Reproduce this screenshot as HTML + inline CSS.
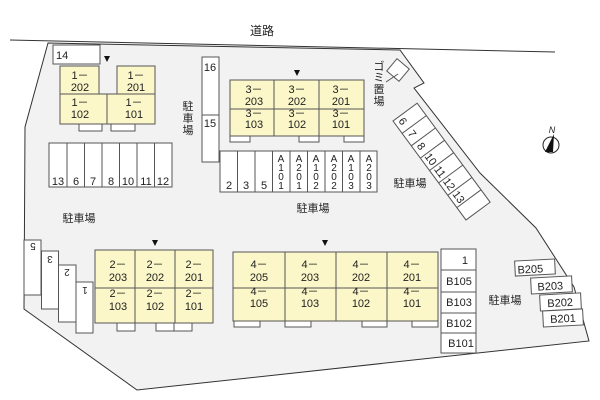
<!DOCTYPE html>
<html><head><meta charset="utf-8"><style>
html,body{margin:0;padding:0;background:#fff;}
svg{display:block;}
text{font-family:"Liberation Sans","Noto Sans CJK JP",sans-serif;fill:#222;}
</style></head><body>
<svg width="600" height="400" viewBox="0 0 600 400" xmlns="http://www.w3.org/2000/svg">
<line x1="10" y1="40" x2="555" y2="52" stroke="#333" stroke-width="1"/>
<text x="262" y="35" font-size="12" text-anchor="middle">道路</text>
<polygon points="48,43 400,50 424,83 414,88 480,173 536,228 574,287 589,341 137,390 24,309 25,127" fill="#f2f2f2" stroke="#333" stroke-width="1"/>

<g stroke="#555" stroke-width="1" font-size="11">
<!-- 14 -->
<rect x="53" y="45" width="47" height="19" fill="#fff"/>
<text x="56" y="59" stroke="none">14</text>
<!-- building 1 -->
<rect x="60" y="66" width="39" height="28" fill="#fbf7c8"/>
<rect x="117" y="66" width="38" height="28" fill="#fbf7c8"/>
<rect x="60" y="94" width="47" height="30" fill="#fbf7c8"/>
<rect x="107" y="94" width="48" height="30" fill="#fbf7c8"/>
<rect x="79" y="124" width="23" height="7" fill="#fff"/>
<rect x="111" y="124" width="24" height="7" fill="#fff"/>
<!-- 13..12 parking -->
<rect x="49" y="143" width="123" height="44" fill="#fff"/>
<path d="M67 143V187M84.5 143V187M102 143V187M119.5 143V187M137 143V187M154.5 143V187" fill="none"/>
<!-- 16/15 -->
<rect x="202" y="57" width="17" height="105" fill="#fff"/>
<line x1="202" y1="115" x2="219" y2="115"/>
<!-- building 3 -->
<rect x="230" y="80" width="134" height="56" fill="#fbf7c8"/>
<path d="M230 109H364M274 80V136M319 80V136" fill="none"/>
<rect x="230" y="136" width="20" height="6" fill="#fff"/>
<rect x="299" y="136" width="20" height="6" fill="#fff"/>
<rect x="344" y="136" width="20" height="6" fill="#fff"/>
<!-- parking row 2..A203 -->
<rect x="220" y="151" width="157" height="41" fill="#fff"/>
<path d="M237.5 151V192M255 151V192M272.5 151V192M290 151V192M307.5 151V192M325 151V192M342.5 151V192M360 151V192" fill="none"/>
<!-- gomi -->
<rect x="390" y="62" width="16" height="16" fill="#fff" transform="rotate(40 398 70)"/>
<line x1="386" y1="82" x2="398" y2="74"/>
<!-- diagonal parking -->
<g transform="translate(393,121) rotate(53.6)">
<rect x="0" y="-30" width="123" height="30" fill="#fff"/>
<path d="M15.4 -30V0M30.8 -30V0M46.1 -30V0M61.5 -30V0M76.9 -30V0M92.3 -30V0M107.6 -30V0" fill="none"/>
<g stroke="none" font-size="11">
<text x="3" y="-4">6</text><text x="18.5" y="-4">7</text><text x="34" y="-4">8</text>
<text x="47" y="-4">10</text><text x="63" y="-4">11</text><text x="78" y="-4">12</text><text x="94" y="-4">13</text>
</g>
</g>
<!-- left rotated parking -->
<rect x="24" y="240" width="17" height="55" fill="#fff"/>
<rect x="41.5" y="251" width="17" height="58" fill="#fff"/>
<rect x="58.5" y="265" width="17.5" height="57" fill="#fff"/>
<rect x="76" y="282" width="17" height="51" fill="#fff"/>
<g stroke="none" font-size="10">
<text transform="translate(33,243) rotate(180)" text-anchor="middle">5</text>
<text transform="translate(50,256) rotate(180)" text-anchor="middle">3</text>
<text transform="translate(67,269) rotate(180)" text-anchor="middle">2</text>
<text transform="translate(85,287) rotate(180)" text-anchor="middle">1</text>
</g>
<!-- building 2 -->
<rect x="95" y="250" width="118" height="73" fill="#fbf7c8"/>
<path d="M95 288H213M135 250V323M175 250V323" fill="none"/>
<rect x="117" y="323" width="18" height="8" fill="#fff"/>
<rect x="156" y="323" width="18" height="8" fill="#fff"/>
<rect x="174" y="323" width="18" height="8" fill="#fff"/>
<!-- building 4 -->
<rect x="233" y="252" width="205" height="69" fill="#fbf7c8"/>
<path d="M233 288H438M285 252V321M336 252V321M387 252V321" fill="none"/>
<rect x="234" y="321" width="26" height="6" fill="#fff"/>
<rect x="285" y="321" width="26" height="6" fill="#fff"/>
<rect x="362" y="321" width="25" height="6" fill="#fff"/>
<rect x="412" y="321" width="26" height="6" fill="#fff"/>
<!-- B column -->
<rect x="441" y="249" width="35" height="104" fill="#fff"/>
<path d="M441 270H476M441 292H476M441 313H476M441 333H476" fill="none"/>
<!-- B2xx -->
<rect x="515" y="260" width="40" height="15" fill="#fff" transform="rotate(-3 535 268)"/>
<rect x="531" y="277" width="41" height="16" fill="#fff" transform="rotate(-3 551 285)"/>
<rect x="540" y="294" width="41" height="16" fill="#fff" transform="rotate(-3 560 302)"/>
<rect x="543" y="310" width="40" height="16" fill="#fff" transform="rotate(-3 563 318)"/>
</g>

<!-- arrows -->
<g fill="#111">
<polygon points="104,56 110,56 107,62"/>
<polygon points="294,70 300,70 297,76"/>
<polygon points="152,240 158,240 155,246"/>
<polygon points="322,240 328,240 325,246"/>
</g>

<g font-size="11" text-anchor="middle">
<text x="80" y="79">1－</text><text x="80" y="91">202</text>
<text x="136" y="79">1－</text><text x="136" y="91">201</text>
<text x="80" y="106">1－</text><text x="80" y="118">102</text>
<text x="134" y="106">1－</text><text x="134" y="118">101</text>
<g font-size="11"><text x="58" y="185">13</text><text x="76" y="185">6</text><text x="93" y="185">7</text><text x="111" y="185">8</text><text x="128" y="185">10</text><text x="146" y="185">11</text><text x="163" y="185">12</text></g>
<text x="210" y="71">16</text><text x="210" y="127">15</text>
<text x="254" y="93">3－</text><text x="254" y="105">203</text>
<text x="297" y="93">3－</text><text x="297" y="105">202</text>
<text x="341" y="93">3－</text><text x="341" y="105">201</text>
<text x="254" y="117">3－</text><text x="254" y="128">103</text>
<text x="297" y="117">3－</text><text x="297" y="128">102</text>
<text x="341" y="117">3－</text><text x="341" y="128">101</text>
<text x="229" y="189">2</text><text x="246" y="189">3</text><text x="264" y="189">5</text>
<g font-size="10">
<text x="281" y="162">A</text><text x="281" y="171">1</text><text x="281" y="180">0</text><text x="281" y="189">1</text>
<text x="299" y="162">A</text><text x="299" y="171">2</text><text x="299" y="180">0</text><text x="299" y="189">1</text>
<text x="316" y="162">A</text><text x="316" y="171">1</text><text x="316" y="180">0</text><text x="316" y="189">2</text>
<text x="334" y="162">A</text><text x="334" y="171">2</text><text x="334" y="180">0</text><text x="334" y="189">2</text>
<text x="351" y="162">A</text><text x="351" y="171">1</text><text x="351" y="180">0</text><text x="351" y="189">3</text>
<text x="369" y="162">A</text><text x="369" y="171">2</text><text x="369" y="180">0</text><text x="369" y="189">3</text>
</g>
<text x="118" y="268">2－</text><text x="118" y="281">203</text>
<text x="155" y="268">2－</text><text x="155" y="281">202</text>
<text x="194" y="268">2－</text><text x="194" y="281">201</text>
<text x="118" y="297">2－</text><text x="118" y="310">103</text>
<text x="155" y="297">2－</text><text x="155" y="310">102</text>
<text x="194" y="297">2－</text><text x="194" y="310">101</text>
<text x="259" y="268">4－</text><text x="259" y="281">205</text>
<text x="310" y="268">4－</text><text x="310" y="281">203</text>
<text x="361" y="268">4－</text><text x="361" y="281">202</text>
<text x="412" y="268">4－</text><text x="412" y="281">201</text>
<text x="259" y="295">4－</text><text x="259" y="307">105</text>
<text x="310" y="295">4－</text><text x="310" y="307">103</text>
<text x="361" y="295">4－</text><text x="361" y="307">102</text>
<text x="412" y="295">4－</text><text x="412" y="307">101</text>
<text x="468" y="264" text-anchor="end">1</text>
<text x="459" y="285">B105</text><text x="459" y="306">B103</text><text x="459" y="327">B102</text><text x="461" y="347">B101</text>
<g transform="rotate(-3 550 300)"><text x="532" y="272">B205</text><text x="551" y="290">B203</text><text x="560" y="307">B202</text><text x="562" y="323">B201</text></g>
</g>

<g font-size="11">
<text x="188" y="110" text-anchor="middle">駐</text><text x="188" y="122" text-anchor="middle">車</text><text x="188" y="134" text-anchor="middle">場</text>
<text x="313" y="212" text-anchor="middle">駐車場</text>
<text x="410" y="187" text-anchor="middle">駐車場</text>
<text x="79" y="222" text-anchor="middle">駐車場</text>
<text x="505" y="304" text-anchor="middle">駐車場</text>
<text x="379" y="70" text-anchor="middle">ゴ</text><text x="379" y="81" text-anchor="middle">ミ</text><text x="379" y="93" text-anchor="middle">置</text><text x="379" y="105" text-anchor="middle">場</text>
</g>
<!-- compass -->
<circle cx="551" cy="145" r="8" fill="#fff" stroke="#222"/>
<polygon points="554,134 545,152 553,152" fill="#111"/>
<text x="552" y="133" font-size="9" font-style="italic" text-anchor="middle">N</text>
</svg>
</body></html>
